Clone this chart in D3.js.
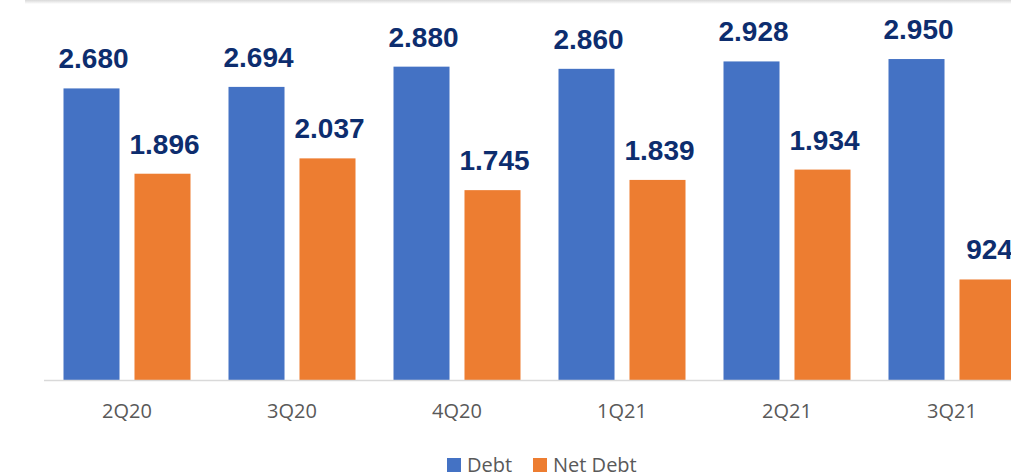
<!DOCTYPE html>
<html>
<head>
<meta charset="utf-8">
<script src="https://cdn.jsdelivr.net/npm/d3@7"></script>
<style>
  body { margin: 0; background: #fff; }
  svg { display: block; }
</style>
</head>
<body>
<svg id="svg1" width="1011" height="474"></svg>
<script>
var quarters = ['2Q20', '3Q20', '4Q20', '1Q21', '2Q21', '3Q21'];
var seriesNames = ['Debt', 'Net Debt'];
var debt = [2680, 2694, 2880, 2860, 2928, 2950];
var netDebt = [1896, 2037, 1745, 1839, 1934, 924];
var seriesColors = ['#4472C4', '#ED7D31'];

var svg = d3.select('#svg1');
var divWidth = 1011, divHeight = 474;

// thousands with a dot, like the source deck
var fmt = d3.formatLocale({ decimal: ',', thousands: '.', grouping: [3], currency: ['', ''] }).format(',d');

var x0 = d3.scaleBand().domain(quarters)
    .range([44.5, 1034.5])
    .paddingInner(38 / 165)
    .paddingOuter(19 / 165);
var x1 = d3.scaleBand().domain(seriesNames)
    .range([0, x0.bandwidth()])
    .paddingInner(0.211);
var y = d3.scaleLinear().domain([0, 3000]).range([380, 53.6]);

// faint shadow along the top edge
var grad = svg.append('defs').append('linearGradient').attr('id', 'topShade')
    .attr('x1', 0).attr('y1', 0).attr('x2', 0).attr('y2', 1);
grad.append('stop').attr('offset', '0%').attr('stop-color', '#d9d9d9');
grad.append('stop').attr('offset', '100%').attr('stop-color', '#ffffff');
svg.append('rect').attr('x', 25).attr('y', 0).attr('width', divWidth - 25).attr('height', 4)
    .attr('fill', 'url(#topShade)');

var rows = quarters.map(function (q, i) {
    return { q: q, values: [debt[i], netDebt[i]] };
});

var groups = svg.selectAll('g.grp').data(rows).enter().append('g')
    .attr('class', 'grp')
    .attr('transform', function (d) { return 'translate(' + x0(d.q) + ',0)'; });

groups.selectAll('rect').data(function (d) {
    return d.values.map(function (v, j) { return { name: seriesNames[j], v: v, j: j }; });
}).enter().append('rect')
    .attr('x', function (d) { return x1(d.name); })
    .attr('y', function (d) { return y(d.v); })
    .attr('width', x1.bandwidth())
    .attr('height', function (d) { return y(0) - y(d.v); })
    .attr('fill', function (d) { return seriesColors[d.j]; });

groups.selectAll('text.val').data(function (d) {
    return d.values.map(function (v, j) { return { name: seriesNames[j], v: v }; });
}).enter().append('text')
    .attr('class', 'val')
    .attr('x', function (d) { return x1(d.name) + x1.bandwidth() / 2 + 2; })
    .attr('y', function (d) { return y(d.v) - 20; })
    .attr('text-anchor', 'middle')
    .attr('font-family', 'Liberation Sans, Arial, sans-serif')
    .attr('font-weight', 'bold')
    .attr('font-size', 28)
    .attr('fill', '#0d2d6e')
    .text(function (d) { return fmt(d.v); });

// x axis
var xAxis = d3.axisBottom(x0).tickSize(0).tickPadding(24);
var gx = svg.append('g').attr('transform', 'translate(0,' + y(0) + ')').call(xAxis);
gx.select('.domain').remove();
gx.append('line').attr('x1', 44).attr('x2', divWidth).attr('y1', 0.5).attr('y2', 0.5)
    .attr('stroke', '#d9d9d9').attr('stroke-width', 1.6);
gx.selectAll('text')
    .attr('font-family', 'Open Sans, Liberation Sans, sans-serif')
    .attr('font-size', 20)
    .attr('fill', '#595959');

// legend
var legendX = [447, 533];
var legend = svg.selectAll('g.leg').data(seriesNames).enter().append('g')
    .attr('class', 'leg')
    .attr('transform', function (d, i) { return 'translate(' + legendX[i] + ',458)'; });
legend.append('rect').attr('width', 14).attr('height', 14)
    .attr('fill', function (d, i) { return seriesColors[i]; });
legend.append('text').attr('x', 20).attr('y', 14)
    .attr('font-family', 'Open Sans, Liberation Sans, sans-serif')
    .attr('font-size', 20)
    .attr('fill', '#595959')
    .text(function (d) { return d; });
</script>
</body>
</html>
